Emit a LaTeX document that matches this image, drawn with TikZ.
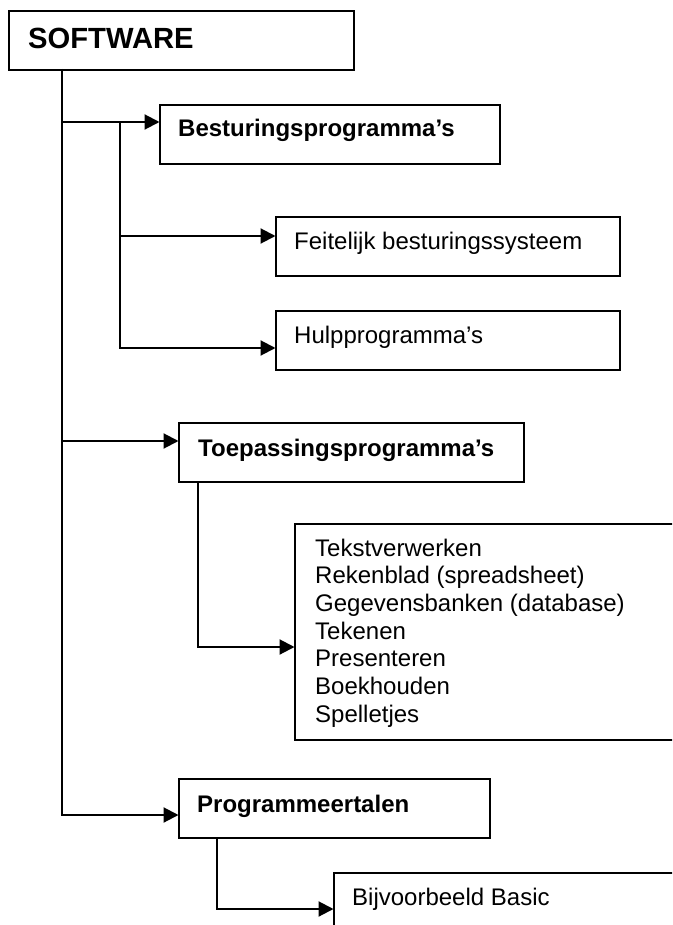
\documentclass[tikz,border=0pt]{standalone}
\usepackage{fontspec}
\setmainfont{Liberation Sans}
\usetikzlibrary{arrows.meta}
\begin{document}
\begin{tikzpicture}[x=1pt,y=-1pt,
  boxst/.style={draw=black, line width=2.1pt, rectangle, inner sep=0pt, anchor=north west},
  lbl/.style={anchor=base west, inner sep=0pt, font=\fontsize{24}{27.7}\selectfont},
  blbl/.style={lbl, font=\fontsize{24}{27.7}\selectfont\bfseries},
  conn/.style={line width=2.1pt},
  arr/.style={conn, -{Triangle[length=15pt,width=15pt]}, shorten >=-0.5pt}
]
\clip (0,0) rectangle (672,925);
\fill[white] (0,0) rectangle (672,925);

% boxes
\node[boxst, minimum width=345pt, minimum height=59pt] (sw) at (8,10) {};
\node[boxst, minimum width=340pt, minimum height=59pt] (bp) at (159,104) {};
\node[boxst, minimum width=344pt, minimum height=59pt] (fb) at (275,216) {};
\node[boxst, minimum width=344pt, minimum height=59pt] (hp) at (275,310) {};
\node[boxst, minimum width=345pt, minimum height=59pt] (tp) at (178,422) {};
\node[boxst, minimum width=420pt, minimum height=216pt] (ls) at (294,523) {};
\node[boxst, minimum width=311pt, minimum height=59pt] (pt) at (178,778) {};
\node[boxst, minimum width=400pt, minimum height=100pt] (bb) at (333,872) {};

% texts
\node[lbl, font=\fontsize{29.2}{33}\selectfont\bfseries] (tsw) at (28,49) {SOFTWARE};
\node[blbl] (tbp) at (178,137) {Besturingsprogramma’s};
\node[lbl] (tfb) at (294,249) {Feitelijk besturingssysteem};
\node[lbl] (thp) at (294,343) {Hulpprogramma’s};
\node[blbl] (ttp) at (198,456) {Toepassingsprogramma’s};
\foreach \t [count=\i from 0] in {Tekstverwerken,Rekenblad (spreadsheet),Gegevensbanken (database),Tekenen,Presenteren,Boekhouden,Spelletjes}{
  \node[lbl] (tls\i) at (315,{556+27.7*\i}) {\t};
}
\node[blbl] (tpt) at (197,812) {Programmeertalen};
\node[lbl] (tbb) at (352,905) {Bijvoorbeeld Basic};

% junction coordinates
\coordinate (m0) at (62,69);
\coordinate (m1) at (62,122);
\coordinate (m2) at (62,441);
\coordinate (m3) at (62,815);
\coordinate (s0) at (120,122);
\coordinate (s1) at (120,236);
\coordinate (s2) at (120,348);
\coordinate (t0) at (198,481);
\coordinate (t1) at (198,647);
\coordinate (p0) at (217,837);
\coordinate (p1) at (217,909);

% connectors
\draw[arr] (m0) -- (m3) -- (m3 -| pt.west);
\draw[arr] (m1) -- (m1 -| bp.west);
\draw[arr] (m2) -- (m2 -| tp.west);
\draw[arr] (s0) -- (s2) -- (s2 -| hp.west);
\draw[arr] (s1) -- (s1 -| fb.west);
\draw[arr] (t0) -- (t1) -- (t1 -| ls.west);
\draw[arr] (p0) -- (p1) -- (p1 -| bb.west);
\end{tikzpicture}
\end{document}
